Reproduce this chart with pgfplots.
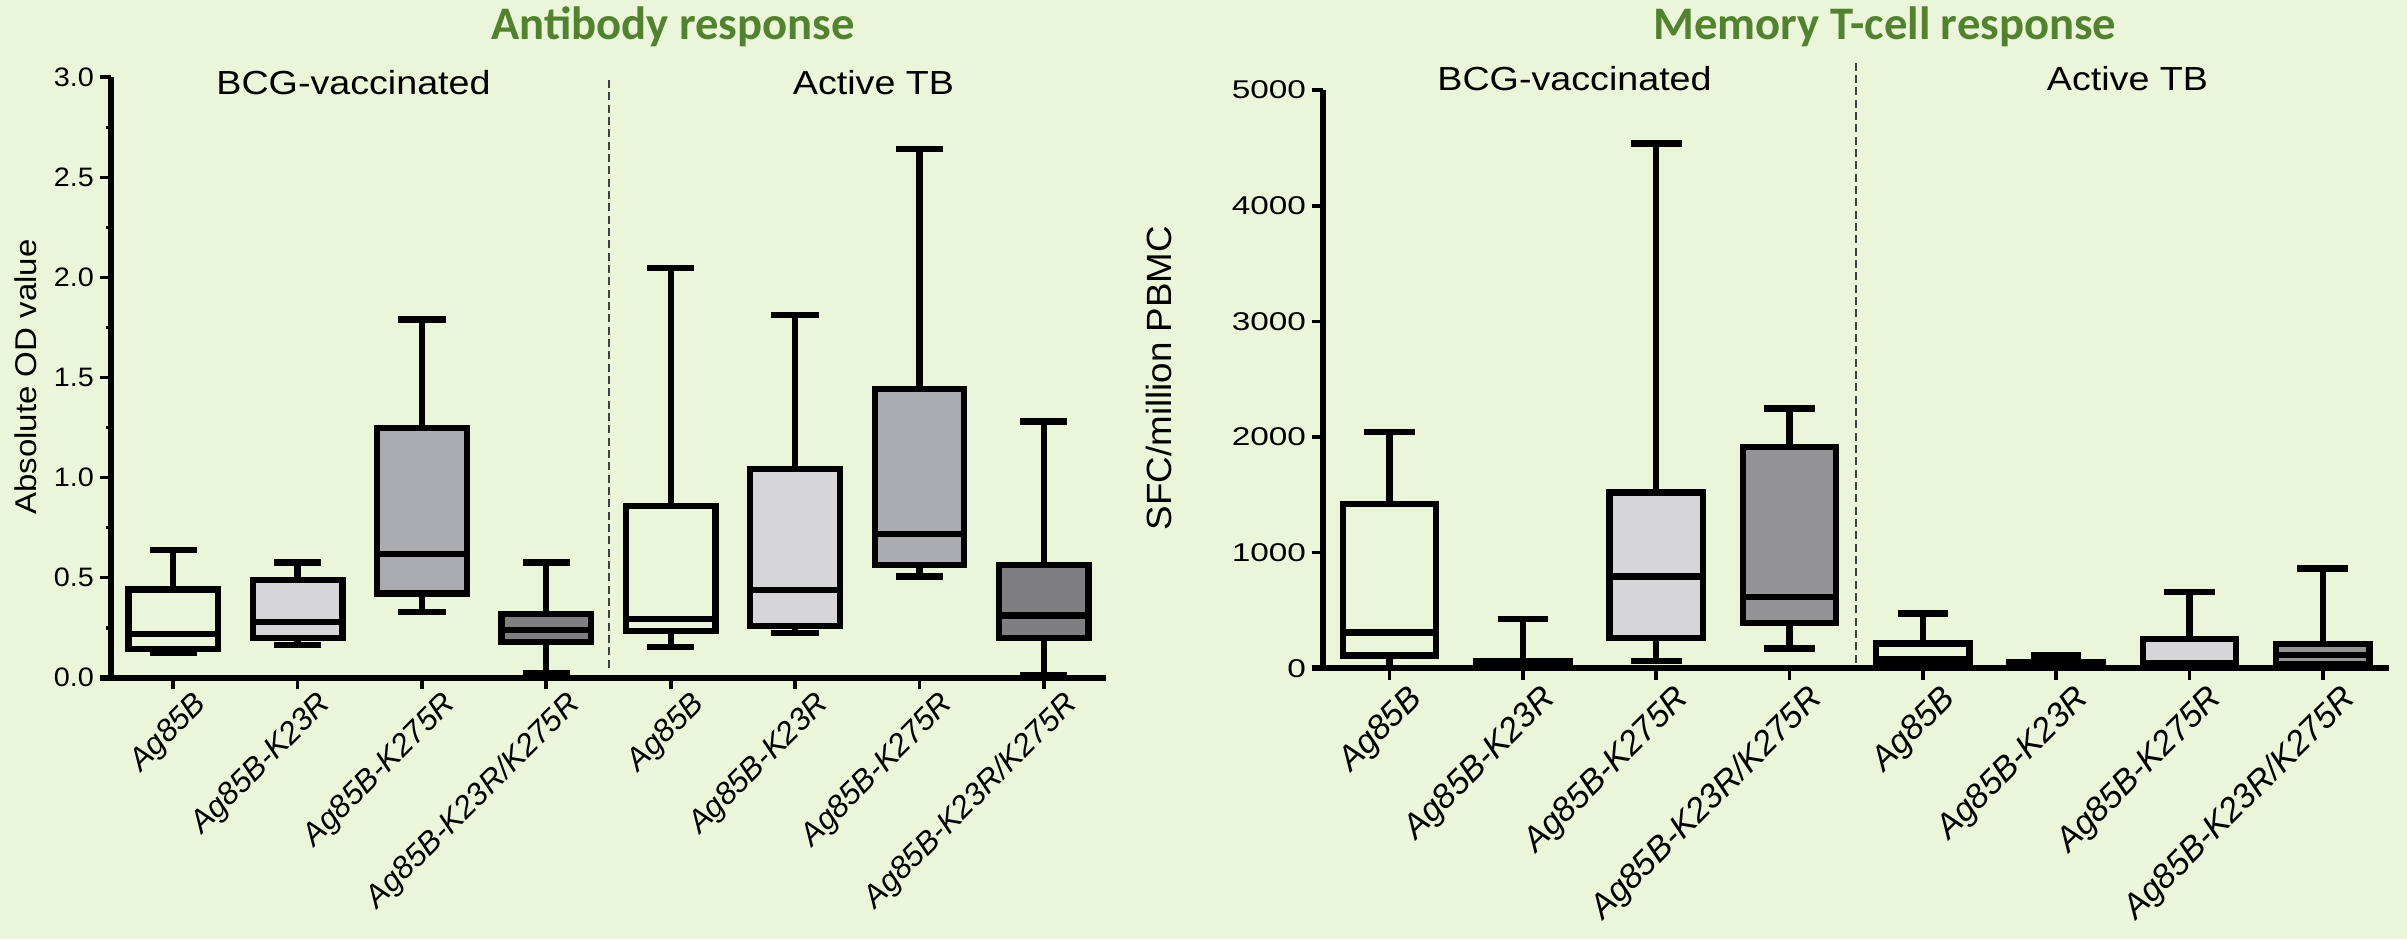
\documentclass[border=0pt]{standalone}
\usepackage{pgfplots}
\pgfplotsset{compat=1.18}
\usepgfplotslibrary{statistics}
\usepackage{fontspec}
\setmainfont{Liberation Sans}
\newfontfamily\titlefont{Carlito}
\definecolor{bg}{RGB}{234,245,217}
\definecolor{ttl}{RGB}{82,130,48}
\definecolor{lightg}{RGB}{214,214,216}
\definecolor{midL}{RGB}{170,171,176}
\definecolor{darkL}{RGB}{127,127,129}
\definecolor{darkR}{RGB}{148,148,151}
\pgfplotsset{
  prism/.style={
    scale only axis, axis lines=left,
    axis line style={line width=1.8pt,-},
    xmin=-0.5, xmax=7.5, ymin=0,
    xtick={0,...,7},
    xticklabels={Ag85B,Ag85B-K23R,Ag85B-K275R,Ag85B-K23R/K275R,Ag85B,Ag85B-K23R,Ag85B-K275R,Ag85B-K23R/K275R},
    tick align=outside, major tick length=3.4pt, minor tick length=1.6pt,
    tick style={line width=1.1pt,black},
    clip=false,
    boxplot/draw direction=y,
    /pgf/number format/assume math mode=true,
    every axis plot/.append style={line width=1.9pt, draw=black},
  },
}
\begin{document}
\begin{tikzpicture}
\fill[bg] (0,0) rectangle (722.1pt,281.7pt);
\path[use as bounding box] (0,0) rectangle (722.1pt,281.7pt);

% ---------- Left: Antibody response ----------
\begin{axis}[prism,
  at={(33.3pt,78.39pt)}, anchor=south west,
  width=298.5pt, height=180.12pt,
  ymax=3,
  ytick={0,0.5,...,3}, minor y tick num=1,
  yticklabel={\scalebox{1.08}[1]{\pgfmathprintnumber[fixed,fixed zerofill,precision=1]{\tick}}},
  yticklabel style={font=\fontsize{8}{9.5}\selectfont, inner sep=1.5pt},
  xticklabel style={font=\fontsize{9.4}{11}\selectfont\itshape, rotate=45, anchor=east, inner sep=2pt, xshift=6pt, yshift=-8.5pt},
]
\addplot[line width=1.8pt] coordinates {(-0.59,0) (-0.5,0)};
\addplot[line width=0.6pt, draw=black!75, dash pattern=on 2.4pt off 1.3pt] coordinates {(3.5,0.05) (3.5,2.99)};
\addplot[boxplot prepared={draw position=0, lower whisker=0.125, lower quartile=0.142, median=0.217, upper quartile=0.44, upper whisker=0.639, box extend=0.72, whisker extend=0.38}] coordinates {};
\addplot[fill=lightg, boxplot prepared={draw position=1, lower whisker=0.163, lower quartile=0.20, median=0.277, upper quartile=0.487, upper whisker=0.575, box extend=0.72, whisker extend=0.38}] coordinates {};
\addplot[fill=midL, boxplot prepared={draw position=2, lower whisker=0.327, lower quartile=0.42, median=0.617, upper quartile=1.247, upper whisker=1.79, box extend=0.72, whisker extend=0.38}] coordinates {};
\addplot[fill=darkL, boxplot prepared={draw position=3, lower whisker=0.022, lower quartile=0.18, median=0.238, upper quartile=0.317, upper whisker=0.575, box extend=0.72, whisker extend=0.38}] coordinates {};
\addplot[boxplot prepared={draw position=4, lower whisker=0.152, lower quartile=0.235, median=0.295, upper quartile=0.858, upper whisker=2.047, box extend=0.72, whisker extend=0.38}] coordinates {};
\addplot[fill=lightg, boxplot prepared={draw position=5, lower whisker=0.223, lower quartile=0.26, median=0.438, upper quartile=1.043, upper whisker=1.813, box extend=0.72, whisker extend=0.38}] coordinates {};
\addplot[fill=midL, boxplot prepared={draw position=6, lower whisker=0.505, lower quartile=0.563, median=0.717, upper quartile=1.442, upper whisker=2.643, box extend=0.72, whisker extend=0.38}] coordinates {};
\addplot[fill=darkL, boxplot prepared={draw position=7, lower whisker=0.013, lower quartile=0.197, median=0.31, upper quartile=0.563, upper whisker=1.28, box extend=0.72, whisker extend=0.38}] coordinates {};
\end{axis}

% ---------- Right: Memory T-cell response ----------
\begin{axis}[prism,
  at={(396.9pt,81.21pt)}, anchor=south west,
  width=319.92pt, height=173.49pt,
  ymax=5000,
  ytick={0,1000,...,5000},
  yticklabel={\scalebox{1.3}[1]{\pgfmathprintnumber[1000 sep={}]{\tick}}},
  yticklabel style={font=\fontsize{7.7}{9}\selectfont, inner sep=1.5pt},
  xticklabel style={font=\fontsize{10.2}{12}\selectfont\itshape, rotate=45, anchor=east, inner sep=2pt, xshift=5pt, yshift=-9pt},
]
\addplot[line width=1.8pt] coordinates {(-0.586,0) (-0.5,0)};
\addplot[line width=0.6pt, draw=black!75, dash pattern=on 2.4pt off 1.3pt] coordinates {(3.5,50) (3.5,5275)};
\addplot[boxplot prepared={draw position=0, lower whisker=0, lower quartile=111, median=309, upper quartile=1418, upper whisker=2045, box extend=0.7, whisker extend=0.38}] coordinates {};
\addplot[fill=lightg, boxplot prepared={draw position=1, lower whisker=0, lower quartile=5, median=20, upper quartile=60, upper whisker=426, box extend=0.7, whisker extend=0.38}] coordinates {};
\addplot[fill=lightg, boxplot prepared={draw position=2, lower whisker=62, lower quartile=263, median=795, upper quartile=1521, upper whisker=4537, box extend=0.7, whisker extend=0.38}] coordinates {};
\addplot[fill=darkR, boxplot prepared={draw position=3, lower whisker=170, lower quartile=394, median=619, upper quartile=1915, upper whisker=2247, box extend=0.7, whisker extend=0.38}] coordinates {};
\addplot[boxplot prepared={draw position=4, lower whisker=0, lower quartile=25, median=75, upper quartile=214, upper whisker=475, box extend=0.7, whisker extend=0.38}] coordinates {};
\addplot[fill=lightg, boxplot prepared={draw position=5, lower whisker=0, lower quartile=5, median=20, upper quartile=50, upper whisker=112, box extend=0.7, whisker extend=0.38}] coordinates {};
\addplot[fill=lightg, boxplot prepared={draw position=6, lower whisker=0, lower quartile=40, median=45, upper quartile=255, upper whisker=662, box extend=0.7, whisker extend=0.38}] coordinates {};
\addplot[fill=darkR, boxplot prepared={draw position=7, lower whisker=0, lower quartile=33, median=115, upper quartile=213, upper whisker=864, box extend=0.7, whisker extend=0.38}] coordinates {};
\end{axis}

% ---------- Titles and labels ----------
\node[anchor=base, text=ttl, font=\titlefont\bfseries\fontsize{14}{16}\selectfont] at (201.9pt,269.7pt) {Antibody response};
\node[anchor=base, text=ttl, font=\titlefont\bfseries\fontsize{14}{16}\selectfont] at (565.5pt,269.7pt) {Memory T-cell response};
\node[anchor=base, font=\fontsize{10}{12}\selectfont] at (106.05pt,253.2pt) {\scalebox{1.13}[1]{BCG-vaccinated}};
\node[anchor=base, font=\fontsize{10}{12}\selectfont] at (262.05pt,253.2pt) {\scalebox{1.13}[1]{Active TB}};
\node[anchor=base, font=\fontsize{10}{12}\selectfont] at (472.35pt,254.4pt) {\scalebox{1.13}[1]{BCG-vaccinated}};
\node[anchor=base, font=\fontsize{10}{12}\selectfont] at (638.25pt,254.4pt) {\scalebox{1.13}[1]{Active TB}};
\node[rotate=90, font=\fontsize{9}{11}\selectfont] at (7.8pt,168.6pt) {\scalebox{1.1}[1]{Absolute OD value}};
\node[rotate=90, font=\fontsize{10.5}{12}\selectfont] at (347.7pt,168.3pt) {\scalebox{1.05}[1]{SFC/million PBMC}};
\end{tikzpicture}
\end{document}
